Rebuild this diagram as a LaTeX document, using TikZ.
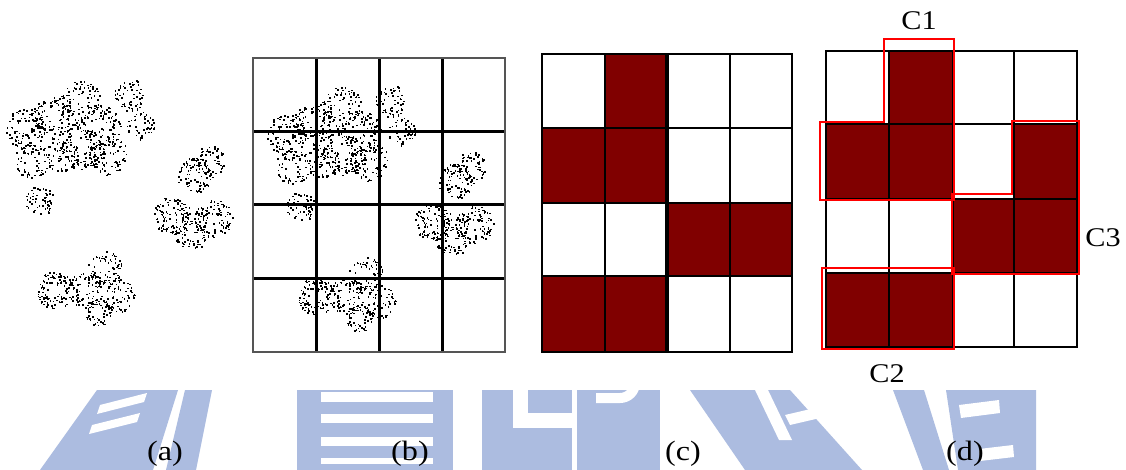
\documentclass[tikz,border=0pt]{standalone}
\usepackage{fontspec}
\setmainfont{Liberation Serif}
\newfontfamily\labfont[FakeStretch=1.15]{Liberation Serif}
\newfontfamily\cfont[FakeStretch=1.12]{Liberation Serif}
\definecolor{cellred}{RGB}{128,0,0}
\definecolor{wm}{RGB}{172,188,224}
\definecolor{framegray}{RGB}{85,85,85}
\tikzset{
  lab/.style={font=\labfont\fontsize{28}{28}\selectfont, inner sep=0pt},
  clab/.style={font=\cfont\fontsize{27}{27}\selectfont, inner sep=0pt, anchor=base},
  gridline/.style={line width=#1, black},
  cellfill/.style={fill=cellred},
  cluster/.style={draw=red, line width=2.2pt},
  wmfill/.style={fill=wm},
}
\newcommand\mydots[2]{%
  \pgfmathsetseed{4711}%
  \foreach \cx/\cy/\r/\n in {25/128/20/95, 52/118/21/95, 80/100/20/80, 100/125/21/95,
      80/145/24/120, 108/155/20/90, 32/160/18/75, 62/155/17/60, 130/95/16/60, 140/125/14/45,
      40/200/15/55, 172/215/19/110, 213/218/19/105, 195/175/18/80, 210/160/15/60, 190/235/16/60,
      55/290/19/105, 85/290/18/90, 105/268/17/75, 118/295/17/70, 98/312/14/50}{%
    \foreach \k in {1,...,\n}{%
      \pgfmathsetmacro\ang{360*rnd}%
      \pgfmathsetmacro\rr{\r*(0.15+0.85*sqrt(rnd))}%
      \fill ({\cx+#1+\rr*cos(\ang)},{\cy+#2+\rr*sin(\ang)}) rectangle ++(1.6,1.6);
    }%
  }%
}
\begin{document}
\begin{tikzpicture}[x=1pt,y=-1pt]
\useasboundingbox (0,0) rectangle (1126,470);
\fill[white] (0,0) rectangle (1126,470);
% ---- watermark ----
\fill[wmfill] (97,390) -- (178,390) -- (153,470) -- (40,470) -- cycle;
\fill[white] (100,405) -- (147,393) -- (144,402) -- (97,414) -- cycle;
\fill[white] (92,425) -- (140,413) -- (137,422) -- (89,434) -- cycle;
\fill[wmfill] (185,390) -- (212,390) -- (196,470) -- (166,470) -- cycle;
\fill[wmfill] (297,390) rectangle (453,470);
\foreach \ya/\yb in {392/402, 414/423, 437/446, 458/464}
  \fill[white] (321,\ya) rectangle (433,\yb);
\fill[wmfill] (482,390) rectangle (572,470);
\fill[white] (513,390) rectangle (528,428);
\fill[white] (513,413) rectangle (572,428);
\fill[wmfill] (577,390) rectangle (660,470);
\draw[white, line width=10pt] (596,398) -- (620,398) arc[start angle=90, end angle=-150, radius=15];
\fill[wmfill] (690,390) -- (790,390) -- (862,470) -- (745,470) -- cycle;
\fill[white] (755,390) -- (768,390) -- (792,440) -- (779,440) -- cycle;
\fill[white] (785,415) -- (815,408) -- (820,418) -- (790,425) -- cycle;
\fill[wmfill] (893,390) -- (924,390) -- (949,470) -- (923,470) -- cycle;
\fill[wmfill] (946,390) -- (1036,390) -- (1036,470) -- (958,470) -- cycle;
\fill[white] (959,405) -- (999,400) -- (1000,413) -- (961,418) -- cycle;
\fill[white] (979,449) -- (1013,445) -- (1014,457) -- (980,461) -- cycle;
% ---- (a) scatter ----
\mydots{0}{0}
% ---- (b) scatter + grid ----
\mydots{261}{6}
\foreach \x in {316,379,442} \draw[gridline=3pt] (\x,58) -- (\x,352);
\foreach \y in {132,205,278} \draw[gridline=3pt] (253,\y) -- (505,\y);
\draw[line width=2.4pt, framegray] (253,58) rectangle (505,352);
% ---- (c) ----
\fill[cellfill] (605,54) rectangle (667,128);
\fill[cellfill] (542,128) rectangle (667,203);
\fill[cellfill] (667,203) rectangle (792,276);
\fill[cellfill] (542,276) rectangle (667,352);
\foreach \x in {605,730} \draw[gridline=2.4pt] (\x,54) -- (\x,352);
\draw[gridline=3.4pt] (667,54) -- (667,352);
\foreach \y in {128,203,276} \draw[gridline=2.4pt] (542,\y) -- (792,\y);
\draw[gridline=2.8pt] (542,54) rectangle (792,352);
% ---- (d) ----
\fill[cellfill] (889,51) rectangle (953,124);
\fill[cellfill] (826,124) rectangle (953,199);
\fill[cellfill] (1014,124) rectangle (1077,199);
\fill[cellfill] (953,199) rectangle (1077,273);
\fill[cellfill] (826,273) rectangle (953,347);
\foreach \x in {889,953,1014} \draw[gridline=2.2pt] (\x,51) -- (\x,347);
\foreach \y in {124,199,273} \draw[gridline=2.2pt] (826,\y) -- (1077,\y);
\draw[gridline=2.2pt] (826,51) rectangle (1077,347);
\draw[cluster] (884,39) -- (954,39) -- (954,200) -- (820,200) -- (820,122) -- (884,122) -- cycle;
\draw[cluster] (1012,121) -- (1079,121) -- (1079,274) -- (952,274) -- (952,194) -- (1012,194) -- cycle;
\draw[cluster] (822,268) rectangle (954,349);
% ---- labels ----
\node[clab] (c1) at (919,30) {C1};
\node[clab] (c3) at (1103,247) {C3};
\node[clab] (c2) at (887,382) {C2};
\node[lab] (la) at (165,454) {(a)};
\node[lab] (lb) at (410,454) {(b)};
\node[lab] (lc) at (683,454) {(c)};
\node[lab] (ld) at (965,454) {(d)};
\end{tikzpicture}
\end{document}
